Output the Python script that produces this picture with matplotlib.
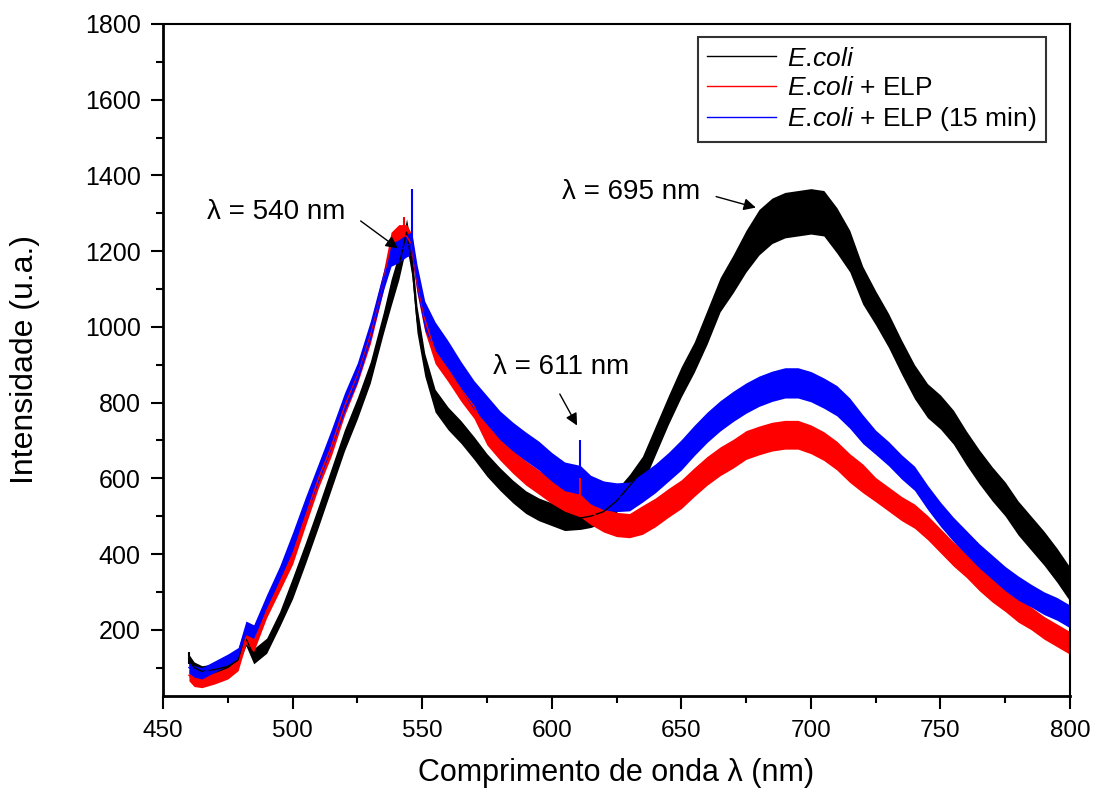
import matplotlib
matplotlib.use("Agg")
import matplotlib.pyplot as plt
from matplotlib.ticker import MultipleLocator

plt.rcParams['font.family'] = ['Liberation Sans', 'DejaVu Sans']
plt.rcParams['mathtext.fontset'] = 'custom'
plt.rcParams['mathtext.rm'] = 'Liberation Sans'
plt.rcParams['mathtext.it'] = 'Liberation Sans:italic'

# wavelength grid (nm)
wavelength = [460, 462, 465, 470, 475, 479, 482, 485, 490, 495,
              500, 505, 510, 515, 520, 525, 530, 535, 538, 541,
              544, 546, 548, 551, 555, 560, 565, 570, 575, 580,
              585, 590, 595, 600, 605, 611, 615, 620, 625, 630,
              635, 640, 645, 650, 655, 660, 665, 670, 675, 680,
              685, 690, 695, 700, 705, 710, 715, 720, 725, 730,
              735, 740, 745, 750, 755, 760, 765, 770, 775, 780,
              785, 790, 795, 800]

# E.coli
ecoli = [120, 100, 90, 95, 103, 120, 178, 130, 158, 228,
         310, 403, 500, 600, 700, 785, 880, 1010, 1090, 1160,
         1250, 1170, 1020, 900, 805, 758, 722, 680, 635, 598,
         565, 537, 518, 505, 492, 495, 500, 512, 540, 580,
         620, 700, 780, 855, 920, 1000, 1085, 1140, 1200, 1250,
         1280, 1295, 1300, 1305, 1300, 1255, 1200, 1110, 1050, 990,
         920, 855, 805, 775, 735, 680, 630, 585, 545, 495,
         455, 415, 370, 320]

# E.coli + ELP
ecoli_elp = [80, 65, 62, 72, 85, 107, 180, 160, 250, 320,
             398, 500, 600, 685, 790, 875, 980, 1120, 1220, 1240,
             1240, 1215, 1120, 1020, 935, 887, 835, 790, 720, 680,
             645, 614, 590, 565, 545, 530, 510, 490, 478, 475,
             490, 510, 535, 558, 590, 620, 645, 665, 688, 700,
             710, 715, 715, 703, 685, 660, 627, 600, 570, 545,
             520, 500, 470, 435, 400, 370, 335, 305, 280, 252,
             230, 205, 185, 165]

# E.coli + ELP (15 min)
ecoli_elp15 = [100, 90, 85, 103, 121, 138, 205, 195, 275, 350,
               432, 526, 615, 705, 800, 880, 990, 1120, 1190, 1200,
               1215, 1220, 1130, 1030, 975, 925, 870, 820, 780, 740,
               710, 684, 660, 630, 605, 596, 570, 555, 550, 552,
               575, 600, 630, 662, 700, 735, 765, 790, 812, 830,
               843, 852, 852, 842, 825, 805, 772, 730, 695, 665,
               630, 600, 550, 505, 465, 430, 395, 365, 335, 310,
               290, 270, 255, 235]

# half width of the noise band of each spectrum
ecoli_noise = [15, 15, 15, 15, 15, 15, 20, 20, 20, 20,
               28, 28, 28, 28, 28, 28, 28, 28, 35, 35,
               35, 35, 35, 30, 30, 30, 30, 30, 30, 30,
               30, 30, 30, 30, 30, 30, 30, 30, 30, 30,
               38, 38, 38, 40, 40, 45, 45, 50, 55, 60,
               60, 60, 60, 60, 60, 60, 55, 50, 45, 45,
               45, 45, 45, 45, 45, 45, 45, 45, 45, 45,
               45, 45, 45, 45]
elp_noise = [15, 15, 15, 15, 15, 15, 18, 18, 18, 18,
             25, 25, 25, 25, 25, 25, 25, 25, 30, 30,
             30, 30, 30, 32, 32, 32, 32, 32, 32, 32,
             32, 32, 32, 32, 32, 32, 32, 32, 32, 32,
             38, 38, 38, 38, 38, 38, 38, 38, 38, 38,
             38, 38, 38, 38, 38, 38, 38, 38, 32, 32,
             32, 32, 32, 32, 32, 32, 32, 32, 32, 32,
             30, 30, 30, 30]
elp15_noise = [15, 15, 15, 15, 15, 15, 18, 18, 18, 18,
               25, 25, 25, 25, 25, 25, 25, 25, 30, 30,
               30, 30, 35, 38, 38, 38, 38, 38, 38, 38,
               38, 38, 38, 38, 38, 38, 38, 38, 38, 38,
               38, 38, 38, 40, 40, 40, 40, 40, 40, 40,
               40, 40, 40, 40, 40, 40, 40, 38, 32, 32,
               32, 32, 32, 32, 32, 32, 32, 32, 32, 32,
               30, 30, 30, 30]

# single sharp spikes sticking out of the bands
spike_wl = [460, 543, 546, 611, 611]
spike_low = [110, 1240, 1215, 596, 530]
spike_top = [140, 1290, 1363, 702, 600]
spike_color = ['black', 'red', 'blue', 'blue', 'red']

labels = [r'$\mathit{E.\!coli}$', r'$\mathit{E.\!coli}$ + ELP', r'$\mathit{E.\!coli}$ + ELP (15 min)']
colors = ['black', 'red', 'blue']

fig = plt.figure(figsize=(10.97, 7.98), dpi=100)
ax = fig.add_axes([0.1486, 0.1278, 0.8268, 0.8422])

series = [(ecoli, ecoli_noise), (ecoli_elp, elp_noise), (ecoli_elp15, elp15_noise)]
for (vals, noise), c, lab in zip(series, colors, labels):
    lo = [v - n for v, n in zip(vals, noise)]
    hi = [v + n for v, n in zip(vals, noise)]
    ax.fill_between(wavelength, lo, hi, color=c, linewidth=0)
    ax.plot(wavelength, vals, color=c, lw=1, label=lab)

ax.vlines(spike_wl, spike_low, spike_top, colors=spike_color, lw=1.5)

ax.set_xlim(450, 800)
ax.set_ylim(25, 1800)
ax.xaxis.set_major_locator(MultipleLocator(50))
ax.xaxis.set_minor_locator(MultipleLocator(25))
ax.yaxis.set_minor_locator(MultipleLocator(100))
ax.set_yticks(range(200, 1801, 200))
ax.tick_params(which='major', direction='out', length=9, width=1.5, top=False, right=False)
ax.tick_params(which='minor', direction='out', length=5, width=1.5, top=False, right=False)
ax.tick_params(axis='x', labelsize=17.5, pad=8)
ax.tick_params(axis='y', labelsize=18, pad=7)
for s in ['left', 'bottom']:
    ax.spines[s].set_linewidth(2)
for s in ['top', 'right']:
    ax.spines[s].set_linewidth(1.5)

ax.set_xlabel('Comprimento de onda λ (nm)', fontsize=22, labelpad=12)
ax.set_ylabel('Intensidade (u.a.)', fontsize=23, labelpad=32)

leg = ax.legend(loc='upper right', bbox_to_anchor=(0.973, 0.98), borderaxespad=0,
                fontsize=19, frameon=True, fancybox=False, handlelength=2.6,
                labelspacing=0.2, borderpad=0.35, handletextpad=0.4)
leg.get_frame().set_edgecolor('black')
leg.get_frame().set_linewidth(1.5)

arrow = dict(arrowstyle='-|>', color='black', lw=1, mutation_scale=18)
ax.text(467, 1304, 'λ = 540 nm', fontsize=20, va='center', ha='left')
ax.annotate('', xy=(541.5, 1203), xytext=(525.4, 1284), arrowprops=arrow)
ax.text(577.4, 894, 'λ = 611 nm', fontsize=20, va='center', ha='left')
ax.annotate('', xy=(610.3, 733), xytext=(602.6, 829), arrowprops=arrow)
ax.text(603.9, 1357, 'λ = 695 nm', fontsize=20, va='center', ha='left')
ax.annotate('', xy=(679.8, 1313), xytext=(662.4, 1346), arrowprops=arrow)

fig.savefig('out.png', dpi=100)
